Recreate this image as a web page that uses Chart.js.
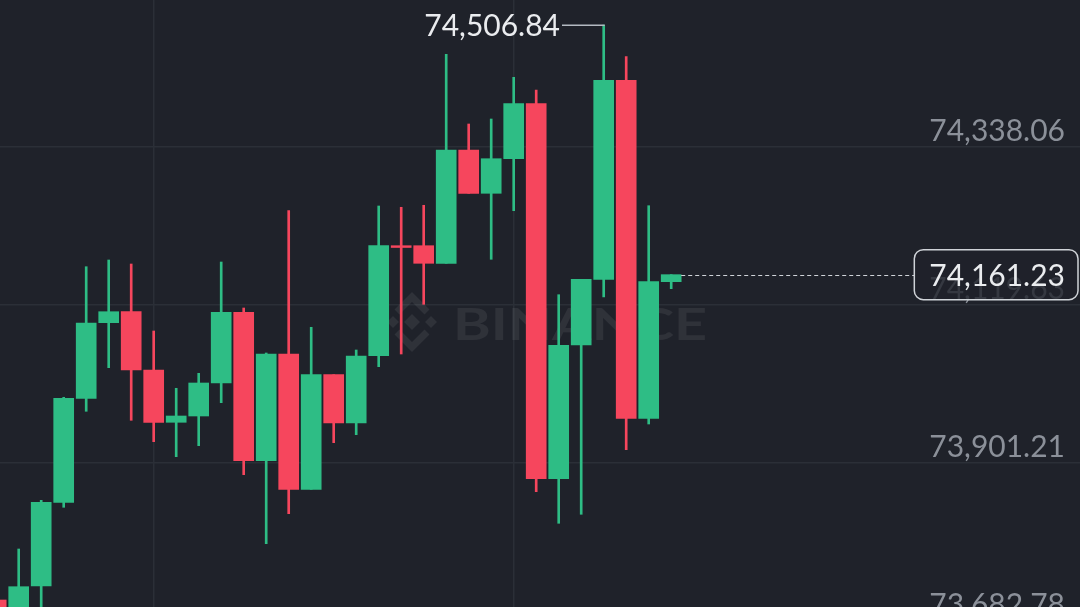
<!DOCTYPE html>
<html>
<head>
<meta charset="utf-8">
<script src="https://cdn.jsdelivr.net/npm/chart.js@4.4.1/dist/chart.umd.min.js"></script>
<style>
  html, body { margin: 0; padding: 0; background: #1f222a; overflow: hidden; }
  #chart { display: block; }
</style>
</head>
<body>
<canvas id="chart" width="1080" height="607"></canvas>
<script>
// candle index (one per bar), price values
const candleIdx = [0, 1, 2, 3, 4, 5, 6, 7, 8, 9, 10, 11, 12, 13, 14, 15,
  16, 17, 18, 19, 20, 21, 22, 23, 24, 25, 26, 27, 28, 29, 30];
const opens = [73710.61, 73675.98, 73730.00, 73845.93, 73989.98, 74094.70, 74109.93, 74029.18,
  73956.74, 73965.47, 74011.18, 74109.10, 73903.55, 74051.34, 73863.94, 74022.67,
  73955.77, 74048.99, 74201.35, 74201.35, 74176.97, 74333.90, 74273.93, 74321.85,
  74398.03, 73878.62, 74063.81, 74154.81, 74430.45, 73962.28, 74151.49];
const closes = [73675.98, 73729.03, 73845.93, 73989.98, 74094.28, 74109.93, 74029.18, 73956.74,
  73965.47, 74011.18, 74109.10, 73903.55, 74051.34, 73863.94, 74022.67, 73955.77,
  74048.57, 74201.35, 74198.86, 74176.97, 74333.90, 74273.93, 74321.85, 74398.03,
  73878.62, 74063.39, 74154.81, 74430.45, 73962.28, 74151.49, 74161.23];
const highs = [73716.15, 73781.25, 73848.70, 73991.37, 74172.26, 74181.54, 74176.00, 74083.20,
  74003.84, 74024.61, 74178.77, 74115.06, 74052.73, 74249.83, 74088.33, 74022.67,
  74056.88, 74256.34, 74254.54, 74257.31, 74466.46, 74369.92, 74376.84, 74434.60,
  74417.01, 74133.48, 74154.81, 74506.84, 74463.13, 74256.75, 74161.23];
const lows = [73655.21, 73666.29, 73675.98, 73839.01, 73971.98, 74032.37, 73959.51, 73929.87,
  73909.09, 73924.33, 73983.89, 73884.16, 73788.59, 73830.14, 73863.94, 73928.49,
  73939.57, 74033.75, 74051.34, 74120.18, 74176.97, 74273.93, 74182.51, 74249.83,
  73860.62, 73816.85, 73829.31, 74130.29, 73918.79, 73954.39, 74141.79];

const yTicks = [73682.78, 73901.21, 74119.63, 74338.06];
const xGridAt = [7, 23];
const highLabel = 74506.84;
const highIdx = 27;
const lastPrice = 74161.23;

const UP = '#2ebd85';
const DOWN = '#f6465d';
const BG = '#1f222a';
const GRID = '#2b2f37';
const FONT = 'Lato, "Liberation Sans", sans-serif';

const colors = candleIdx.map(i => closes[i] >= opens[i] ? UP : DOWN);
const fmt = v => v.toLocaleString('en-US', { minimumFractionDigits: 2, maximumFractionDigits: 2 });

const bgPlugin = {
  id: 'bg',
  beforeDraw(chart) {
    const c = chart.ctx;
    c.save();
    c.fillStyle = BG;
    c.fillRect(0, 0, chart.width, chart.height);
    c.restore();
  }
};

// faint logo + wordmark behind the candles
const watermark = {
  id: 'watermark',
  beforeDatasetsDraw(chart) {
    const c = chart.ctx;
    c.save();
    c.fillStyle = 'rgba(255,255,255,0.075)';
    c.strokeStyle = 'rgba(255,255,255,0.075)';
    const cx = 412, cy = 322;
    const diamond = (x, y, r) => {
      c.beginPath();
      c.moveTo(x, y - r); c.lineTo(x + r, y); c.lineTo(x, y + r); c.lineTo(x - r, y);
      c.closePath(); c.fill();
    };
    diamond(cx, cy, 8);
    diamond(cx - 19, cy, 6);
    diamond(cx + 19, cy, 6);
    c.lineWidth = 7;
    c.lineJoin = 'miter';
    c.beginPath();
    c.moveTo(cx - 15, cy - 10); c.lineTo(cx, cy - 25); c.lineTo(cx + 15, cy - 10);
    c.stroke();
    c.beginPath();
    c.moveTo(cx - 15, cy + 10); c.lineTo(cx, cy + 25); c.lineTo(cx + 15, cy + 10);
    c.stroke();
    c.font = 'bold 44px ' + FONT;
    c.textBaseline = 'alphabetic';
    const w = c.measureText('BINANCE').width;
    c.translate(453, 340);
    c.scale(254 / w, 1);
    c.fillText('BINANCE', 0, 0);
    c.restore();
  }
};

const overlay = {
  id: 'overlay',
  afterDraw(chart) {
    const c = chart.ctx;
    const xs = chart.scales.x, ys = chart.scales.y;
    c.save();
    // price axis labels
    c.font = '30px ' + FONT;
    c.fillStyle = '#8b9099';
    c.textAlign = 'right';
    c.textBaseline = 'alphabetic';
    yTicks.forEach(v => c.fillText(fmt(v), 1065, ys.getPixelForValue(v) - 5.5));

    // session high marker
    const hx = xs.getPixelForValue(highIdx), hy = ys.getPixelForValue(highLabel);
    c.strokeStyle = '#b4bac2';
    c.lineWidth = 1.5;
    c.beginPath();
    c.moveTo(562, hy); c.lineTo(hx + 1, hy);
    c.stroke();
    c.fillStyle = '#eaecef';
    c.fillText(fmt(highLabel), 560, hy + 11);

    // last price line + box
    const ly = ys.getPixelForValue(lastPrice);
    const lx = xs.getPixelForValue(candleIdx[candleIdx.length - 1]) + 10;
    const tw = c.measureText(fmt(lastPrice)).width;
    const bx = 1065 - tw - 15, bw = 1078 - bx, bh = 50;
    c.setLineDash([4, 3]);
    c.strokeStyle = '#d0d4d9';
    c.lineWidth = 1.2;
    c.beginPath();
    c.moveTo(lx, Math.round(ly) + 0.5); c.lineTo(bx, Math.round(ly) + 0.5);
    c.stroke();
    c.setLineDash([]);
    c.beginPath();
    c.roundRect(bx, ly - bh / 2, bw, bh, 9);
    c.fillStyle = 'rgba(31,34,42,0.8)';
    c.fill();
    c.strokeStyle = '#cfd3d8';
    c.lineWidth = 1.5;
    c.stroke();
    c.fillStyle = '#eaecef';
    c.fillText(fmt(lastPrice), 1065, ly + 11);
    c.restore();
  }
};

new Chart(document.getElementById('chart'), {
  type: 'bar',
  data: {
    datasets: [
      {
        label: 'body',
        data: candleIdx.map(i => ({ x: i, y: [opens[i], closes[i]] })),
        backgroundColor: colors,
        barThickness: 20,
        borderWidth: 0,
        grouped: false
      },
      {
        label: 'wick',
        data: candleIdx.map(i => ({ x: i, y: [lows[i], highs[i]] })),
        backgroundColor: colors,
        barThickness: 2,
        borderWidth: 0,
        grouped: false
      }
    ]
  },
  options: {
    responsive: false,
    animation: false,
    layout: { padding: 0 },
    plugins: { legend: { display: false }, tooltip: { enabled: false } },
    scales: {
      x: {
        type: 'linear',
        offset: false,
        min: 0.1689,
        max: 48.1689,
        afterBuildTicks: s => { s.ticks = xGridAt.map(v => ({ value: v })); },
        ticks: { display: false },
        grid: { color: GRID, lineWidth: 1.5, drawTicks: false, offset: false },
        border: { display: false }
      },
      y: {
        position: 'right',
        min: 73700.91,
        max: 74541.67,
        afterBuildTicks: s => { s.ticks = yTicks.map(v => ({ value: v })); },
        ticks: { display: false },
        grid: { color: GRID, lineWidth: 1.5, drawTicks: false },
        border: { display: false }
      }
    }
  },
  plugins: [bgPlugin, watermark, overlay]
});
</script>
</body>
</html>
